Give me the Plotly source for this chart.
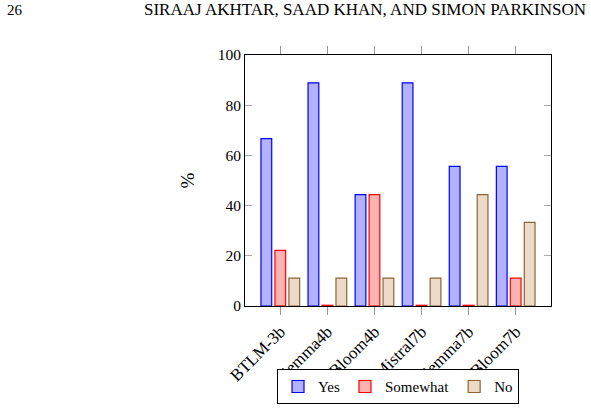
import plotly.graph_objects as go

categories = ["BTLM-3b", "Gemma4b", "Bloom4b", "Mistral7b", "Gemma7b", "Bloom7b"]
yes_vals = [66.7, 88.9, 44.4, 88.9, 55.6, 55.6]
somewhat_vals = [22.2, 0, 44.4, 0, 0, 11.1]
no_vals = [11.1, 11.1, 11.1, 11.1, 44.4, 33.3]
y_ticks = [0, 20, 40, 60, 80, 100]

FONT = "Liberation Serif"
MIN_VISIBLE = 0.3  # zero-valued bars are drawn as a hairline at the axis

fig = go.Figure()
series = [
    ("Yes", yes_vals, "rgb(178,178,255)", "rgb(0,0,255)"),
    ("Somewhat", somewhat_vals, "rgb(255,178,178)", "rgb(255,0,0)"),
    ("No", no_vals, "rgb(236,217,198)", "rgb(140,100,55)"),
]
for name, vals, fill, line in series:
    fig.add_trace(go.Bar(
        name=name, x=list(range(len(categories))),
        y=[v if v > 0 else MIN_VISIBLE for v in vals],
        customdata=vals, hovertemplate="%{customdata}<extra>" + name + "</extra>",
        marker=dict(color=fill, line=dict(color=line, width=1.2)),
    ))

fig.update_layout(
    width=591, height=408,
    margin=dict(l=245, r=40, t=55, b=102, autoexpand=False),
    paper_bgcolor="white", plot_bgcolor="white",
    barmode="group", bargap=0.11, bargroupgap=0.23,
    font=dict(family=FONT, size=15, color="black"),
    showlegend=True,
    legend=dict(
        orientation="h", x=0.5, xanchor="center", y=-0.252, yanchor="top",
        bordercolor="black", borderwidth=1, bgcolor="white",
        font=dict(family=FONT, size=15), itemwidth=30, traceorder="normal",
    ),
    xaxis=dict(
        range=[-0.75, len(categories) - 0.25],
        tickmode="array", tickvals=list(range(len(categories))), ticktext=categories,
        tickangle=-45, ticks="outside", ticklen=8, tickcolor="rgb(150,150,150)",
        showline=True, linecolor="black", linewidth=1, mirror="ticks",
        showgrid=False, zeroline=False,
        tickfont=dict(family=FONT, size=17),
    ),
    yaxis=dict(
        range=[0, 100], tickvals=y_ticks,
        ticks="inside", ticklen=7, tickcolor="rgb(170,170,170)",
        showline=True, linecolor="black", linewidth=1, mirror="ticks",
        showgrid=False, zeroline=False,
        title=dict(text="%", font=dict(family=FONT, size=19), standoff=18),
        tickfont=dict(family=FONT, size=15.5),
    ),
)

fig.add_annotation(text="26", xref="paper", yref="paper", x=-240/306, y=1 + 45/251,
                   xanchor="left", yanchor="middle", showarrow=False,
                   font=dict(family=FONT, size=15))
fig.add_annotation(text="SIRAAJ AKHTAR, SAAD KHAN, AND SIMON PARKINSON",
                   xref="paper", yref="paper", x=(588 - 245) / 306, y=1 + 45/251,
                   xanchor="right", yanchor="middle", showarrow=False,
                   font=dict(family=FONT, size=17))

fig.write_html("out.html")
